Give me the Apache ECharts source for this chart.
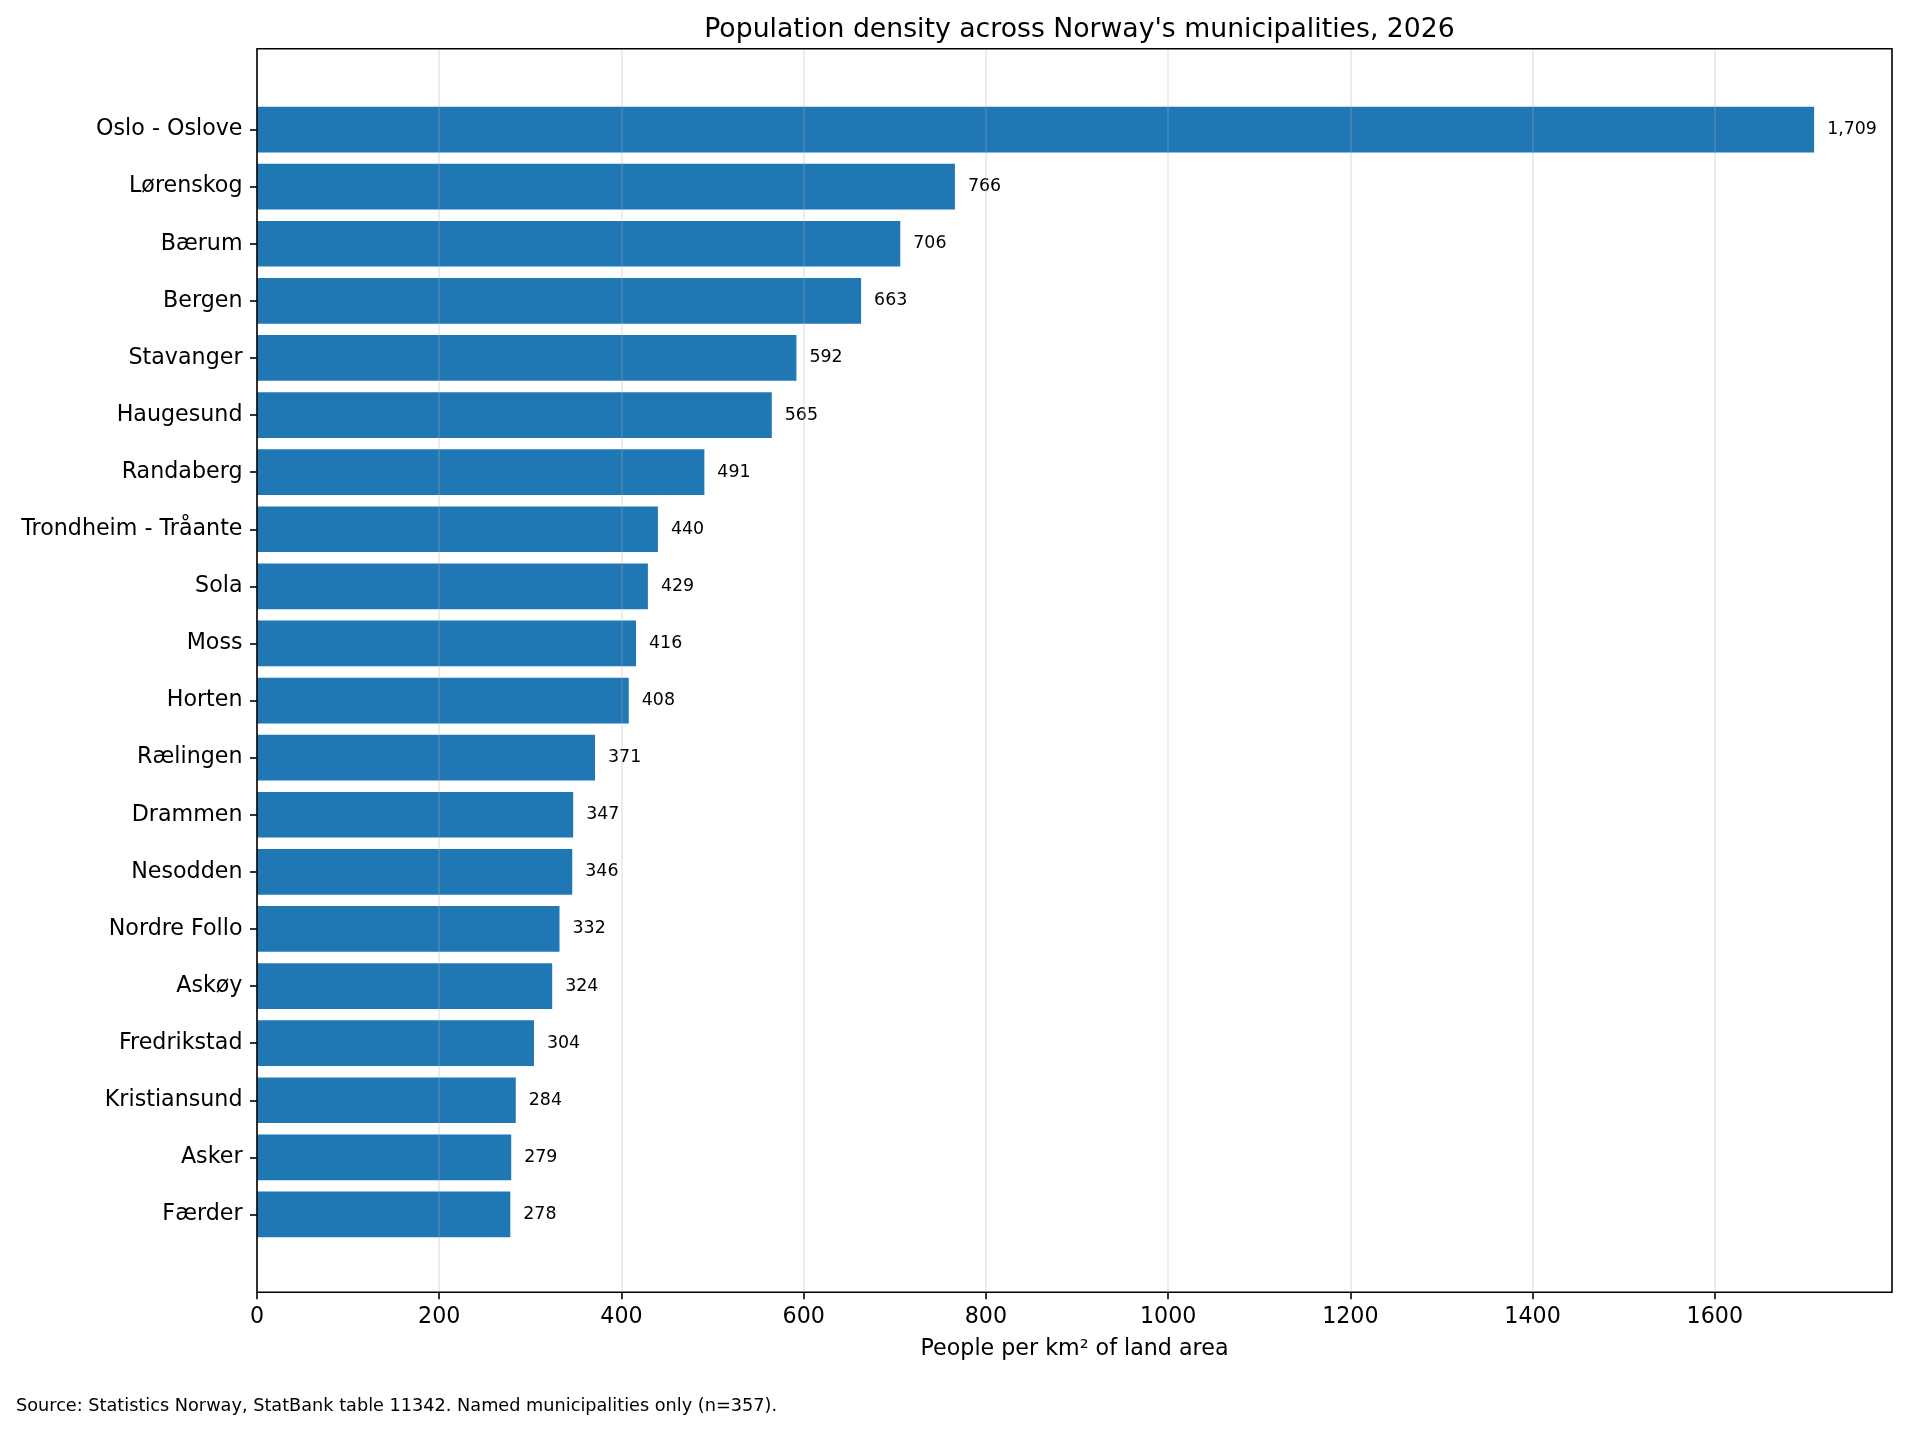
<!DOCTYPE html>
<html>
<head>
<meta charset="utf-8">
<title>Population density</title>
<script src="https://cdn.jsdelivr.net/npm/echarts@6/dist/echarts.min.js"></script>
<style>
  html, body { margin: 0; padding: 0; background: #fff; }
  #chart { width: 1908px; height: 1431px; }
</style>
</head>
<body>
<div id="chart"></div>
<script>
// data
var municipalities = ['Oslo - Oslove', 'Lørenskog', 'Bærum', 'Bergen', 'Stavanger', 'Haugesund',
  'Randaberg', 'Trondheim - Tråante', 'Sola', 'Moss', 'Horten', 'Rælingen', 'Drammen',
  'Nesodden', 'Nordre Follo', 'Askøy', 'Fredrikstad', 'Kristiansund', 'Asker', 'Færder'];
var density = [1709, 766, 706, 663, 592, 565, 491, 440, 429, 416, 408, 371, 347, 346, 332, 324, 304, 284, 279, 278];
var xTicks = [0, 200, 400, 600, 800, 1000, 1200, 1400, 1600];

var FONT = 'DejaVu Sans';
var xMax = 1709 * 1.05;

var chart = echarts.init(document.getElementById('chart'));

var option = {
  animation: false,
  backgroundColor: '#fff',
  title: {
    text: "Population density across Norway's municipalities, 2026",
    left: 1074.5,
    textAlign: 'center',
    top: 12,
    textStyle: { fontFamily: FONT, fontSize: 26.7, fontWeight: 'normal', color: '#000' }
  },
  grid: [
    // frame + x axis
    { left: 257, top: 48.7, width: 1635, height: 1243.5, show: true,
      borderColor: '#000', borderWidth: 1.6, backgroundColor: 'transparent', z: 10 },
    // bar area (bands of the categories)
    { left: 257, top: 101, width: 1635, height: 1142 }
  ],
  xAxis: [
    {
      gridIndex: 0, type: 'value', min: 0, max: xMax, z: 5,
      name: 'People per km² of land area', nameLocation: 'middle', nameGap: 46,
      nameTextStyle: { fontFamily: FONT, fontSize: 22.2, color: '#000' },
      axisLine: { show: false },
      axisTick: { show: true, length: 7, customValues: xTicks, lineStyle: { color: '#000', width: 1.6 } },
      axisLabel: {
        customValues: xTicks, margin: 14, fontFamily: FONT, fontSize: 22.2, color: '#000',
        formatter: function (v) { return String(v); }
      },
      splitLine: { show: true, lineStyle: { color: 'rgba(176,176,176,0.3)', width: 1.6 } }
    },
    { gridIndex: 1, type: 'value', min: 0, max: xMax, show: false }
  ],
  yAxis: [
    { gridIndex: 0, type: 'value', min: 0, max: 1, show: false },
    {
      gridIndex: 1, type: 'category', inverse: true, data: municipalities,
      axisLine: { show: false },
      axisTick: { show: true, length: 7, alignWithLabel: true, lineStyle: { color: '#000', width: 1.6 } },
      axisLabel: { margin: 14.5, fontFamily: FONT, fontSize: 22.2, color: '#000' },
      splitLine: { show: false }
    }
  ],
  series: [
    {
      type: 'bar', xAxisIndex: 1, yAxisIndex: 1, data: density,
      barWidth: '80%', z: 2,
      itemStyle: { color: '#1f77b4' },
      label: {
        show: true, position: 'right', distance: 13,
        fontFamily: FONT, fontSize: 17.4, color: '#000',
        formatter: function (p) { return p.value.toLocaleString('en-US'); }
      }
    }
  ],
  graphic: [
    {
      type: 'text', left: 16, top: 1397,
      style: {
        text: 'Source: Statistics Norway, StatBank table 11342. Named municipalities only (n=357).',
        font: '17.7px "DejaVu Sans"', fill: '#000'
      }
    }
  ]
};

chart.setOption(option);
</script>
</body>
</html>
